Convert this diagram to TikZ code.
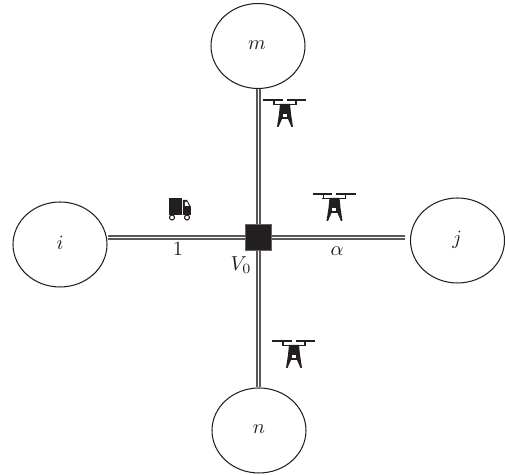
\documentclass[tikz,border=0pt]{standalone}
\usetikzlibrary{shapes.geometric}
\definecolor{inkblack}{HTML}{231F20}
\tikzset{
  pixel frame/.style = {x=0.02cm, y=-0.02cm},
  customer/.style = {draw=inkblack, ellipse, inner sep=0pt, line width=0.6pt, minimum width=1.88cm, minimum height=1.7cm},
  depot/.style = {fill=inkblack, draw=inkblack!70, minimum size=0.52cm, inner sep=0pt},
  road/.style = {draw=inkblack!75, double=white, double distance=0.45pt, line width=1pt},
  label/.style = {text=inkblack, inner sep=0pt, scale=1.15},
  drone/.pic = {
    % rotor bars and struts
    \draw[inkblack, line width=0.8pt] (-21.5,0) -- (-2,0) (2,0) -- (21.5,0);
    \draw[inkblack, line width=1pt] (-12,4.5) -- (12,4.5);
    \draw[inkblack, line width=0.7pt] (-11,0) -- (-11,4.5) (11,0) -- (11,4.5);
    % body and legs
    \fill[inkblack] (-5,4) -- (5,4) -- (6,14) -- (8,27) -- (6.5,27) -- (3,19) -- (-3,19) -- (-6.5,27) -- (-8,27) -- (-6,14) -- cycle;
    \fill[white] (-2,14.5) rectangle (2,17.5);
  },
  truck/.pic = {
    % box and cab
    \fill[inkblack] (-11,-11) rectangle (2,6);
    \fill[inkblack] (3,-9) -- (7,-9) -- (11,-2) -- (11,6) -- (3,6) -- cycle;
    \fill[white] (5,-7) -- (7,-7) -- (9,-3) -- (5,-3) -- cycle;
    % wheels
    \draw[inkblack, fill=white, line width=0.6pt] (-8,8.5) circle (2.5) (7,8.5) circle (2.5);
  },
}

\begin{document}
\begin{tikzpicture}[pixel frame]
  \useasboundingbox (0,0) rectangle (505,475);

  % draw customers
  \node[customer] (m) at (258,46) {};
  \node[customer] (i) at (60,244.5) {};
  \node[customer] (j) at (457.5,240.5) {};
  \node[customer] (n) at (259,430.5) {};

  % draw depot
  \node[depot] (V0) at (258.5,237.5) {};
  \coordinate (jstop) at (405,237.5);

  % draw roads
  \draw[road] (V0) -- (i.east |- V0);
  \draw[road] (V0) -- (jstop);
  \draw[road] (V0.north) -- (V0.north |- m.south);
  \draw[road] (V0.south) -- (V0.south |- n.north);
  \node[depot] at (V0) {};

  % draw labels
  \node[label] at (257,45) {$m$};
  \node[label] at (60,243) {$i$};
  \node[label] at (457,240) {$j$};
  \node[label] at (259,429) {$n$};
  \node[label] at (178,249) {$1$};
  \node[label] at (337,251) {$\alpha$};
  \node[label] at (241,265) {$V_0$};

  % draw vehicles
  \pic at (180,209) {truck};
  \pic at (285,100) {drone};
  \pic at (334.5,194) {drone};
  \pic at (294,341) {drone};
\end{tikzpicture}
\end{document}
